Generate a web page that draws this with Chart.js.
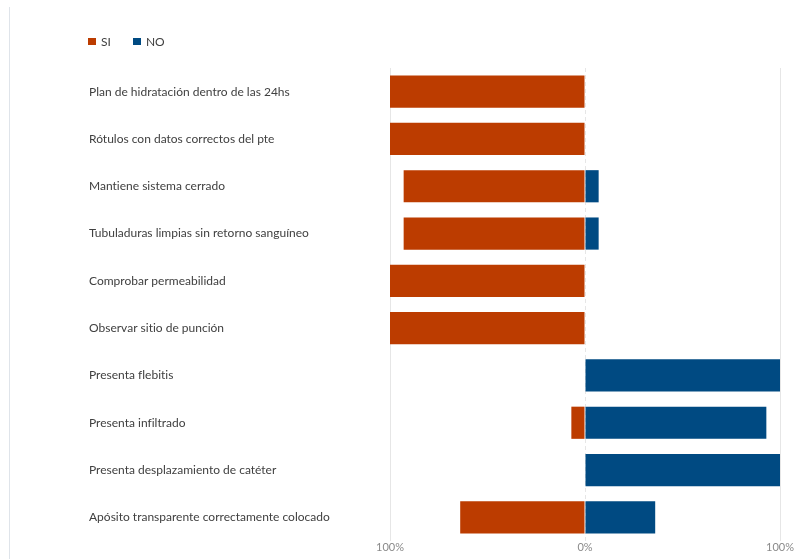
<!DOCTYPE html>
<html>
<head>
<meta charset="utf-8">
<script src="https://cdn.jsdelivr.net/npm/chart.js@4.4.1/dist/chart.umd.min.js"></script>
<style>
  html, body { margin: 0; padding: 0; background: #fff; }
  #wrap { position: relative; width: 794px; height: 559px; overflow: hidden; }
  #edge { position: absolute; left: 9px; top: 7px; width: 1px; height: 552px; background: #dfe4ea; }
  #legend { position: absolute; top: 34px; left: 88px; font: 12px Lato, "Open Sans", sans-serif; color: #404040; display: flex; font-variant-ligatures: none; }
  #legend .item { display: flex; align-items: center; margin-right: 22px; }
  #legend .sw { width: 8px; height: 7px; margin-right: 5px; }
  canvas { position: absolute; left: 0; top: 0; }
</style>
</head>
<body>
<div id="wrap">
  <div id="edge"></div>
  <canvas id="c" width="794" height="559"></canvas>
  <div id="legend"></div>
</div>
<script>
// Categories (top to bottom) and the share of SI / NO answers, in percent
const categories = [
  "Plan de hidratación dentro de las 24hs",
  "Rótulos con datos correctos del pte",
  "Mantiene sistema cerrado",
  "Tubuladuras limpias sin retorno sanguíneo",
  "Comprobar permeabilidad",
  "Observar sitio de punción",
  "Presenta flebitis",
  "Presenta infiltrado",
  "Presenta desplazamiento de catéter",
  "Apósito transparente correctamente colocado"
];
const siValues = [100, 100, 93, 93, 100, 100, 0, 7, 0, 64];
const noValues = [0, 0, 7, 7, 0, 0, 100, 93, 100, 36];
const tickValues = [-100, 0, 100];
const seriesNames = ["SI", "NO"];
const seriesColors = ["#bc3c00", "#004a82"];

// SI grows to the left of zero, NO to the right
const data = {
  labels: categories,
  datasets: [
    { label: seriesNames[0], data: siValues.map(v => -v), backgroundColor: seriesColors[0] },
    { label: seriesNames[1], data: noValues, backgroundColor: seriesColors[1] }
  ]
};

const labelFont = { family: "Lato, 'Open Sans', sans-serif", size: 12 };

// Plain glyphs for the axis labels (no "ti"/"fi" ligatures)
const plainText = {
  id: "plainText",
  beforeDraw(chart) {
    if ("textRendering" in chart.ctx) chart.ctx.textRendering = "optimizeSpeed";
  }
};

new Chart(document.getElementById("c"), {
  type: "bar",
  data,
  plugins: [plainText],
  options: {
    indexAxis: "y",
    responsive: false,
    animation: false,
    layout: { padding: { left: 89, right: 14, top: 68, bottom: 0 } },
    datasets: { bar: { categoryPercentage: 1, barPercentage: 0.68, borderWidth: 0 } },
    plugins: { legend: { display: false }, tooltip: { enabled: false } },
    scales: {
      x: {
        stacked: true,
        min: -100,
        max: 100,
        afterBuildTicks: s => { s.ticks = tickValues.map(v => ({ value: v })); },
        afterFit: s => { s.height = 18; },
        ticks: {
          padding: 0,
          color: "#8a8a8a",
          font: { family: "Lato, 'Open Sans', sans-serif", size: 11 },
          callback: v => Math.abs(v) + "%"
        },
        grid: {
          drawTicks: false,
          color: "#e6e6e6",
          lineWidth: 1
        },
        border: {
          display: false,
          dash: ctx => (ctx.tick && ctx.tick.value === 0) ? [4, 3] : []
        }
      },
      y: {
        stacked: true,
        afterFit: s => { s.width = 301; },
        grid: { display: false, drawTicks: false },
        border: { display: false },
        ticks: {
          crossAlign: "far",
          padding: 0,
          color: "#404040",
          font: labelFont
        }
      }
    }
  }
});

// Legend row
const legend = document.getElementById("legend");
seriesNames.forEach((name, i) => {
  const item = document.createElement("div");
  item.className = "item";
  const sw = document.createElement("span");
  sw.className = "sw";
  sw.style.background = seriesColors[i];
  const txt = document.createElement("span");
  txt.textContent = name;
  item.appendChild(sw);
  item.appendChild(txt);
  legend.appendChild(item);
});
</script>
</body>
</html>
